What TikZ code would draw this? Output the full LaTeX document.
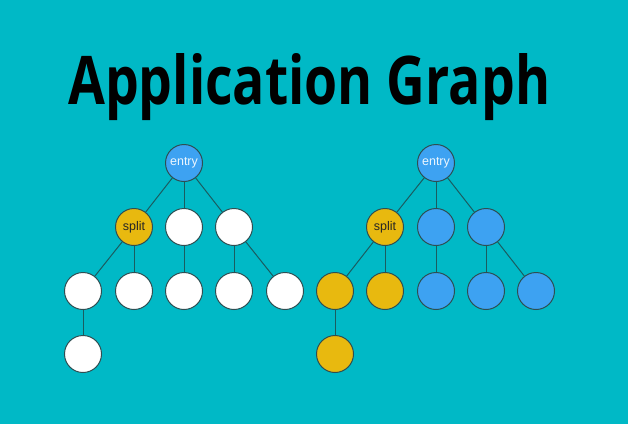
\documentclass[tikz,border=0pt]{standalone}
\usepackage{fontspec}
\setmainfont{Liberation Sans}
\newfontfamily\titlefont{Open Sans}[BoldFont={* Bold}]
\definecolor{bg}{HTML}{00B9C6}
\definecolor{nblue}{HTML}{3DA2F2}
\definecolor{nyellow}{HTML}{E8B90F}
\definecolor{edgec}{HTML}{1A5C60}
\definecolor{ringc}{HTML}{2E4E52}
\begin{document}
\begin{tikzpicture}[x=1pt,y=1pt,
  vert/.style={circle,draw=ringc,line width=1pt,minimum size=37pt,inner sep=0pt,font=\fontsize{12.5}{14}\selectfont},
  wnode/.style={vert,fill=white},
  bnode/.style={vert,fill=nblue,text=white!90!nblue},
  ynode/.style={vert,fill=nyellow,text=black!85},
  link/.style={draw=edgec,line width=1pt}]
\fill[bg] (0,0) rectangle (628,-424);
\useasboundingbox (0,0) rectangle (628,-424);
\node[anchor=base west,inner sep=0pt] (title) at (68,-104)
  {\resizebox{482pt}{51pt}{\titlefont\bfseries Application Graph}};
% left tree
\node[bnode] (le) at (184,-163) {entry};
\node[ynode] (ls) at (134,-227) {split};
\node[wnode] (lb) at (184,-227) {};
\node[wnode] (lc) at (234,-227) {};
\node[wnode] (l1) at (83,-291) {};
\node[wnode] (l2) at (134,-291) {};
\node[wnode] (l3) at (184,-291) {};
\node[wnode] (l4) at (234,-291) {};
\node[wnode] (l5) at (285,-291) {};
\node[wnode] (l6) at (83,-354) {};
\foreach \a/\b in {le/ls,le/lb,le/lc,ls/l1,ls/l2,lb/l3,lc/l4,lc/l5,l1/l6}
  \draw[link] (\a) -- (\b);
% right tree
\node[bnode] (re) at (436,-163) {entry};
\node[ynode] (rs) at (385,-227) {split};
\node[bnode] (rb) at (436,-227) {};
\node[bnode] (rc) at (486,-227) {};
\node[ynode] (r1) at (335,-291) {};
\node[ynode] (r2) at (385,-291) {};
\node[bnode] (r3) at (436,-291) {};
\node[bnode] (r4) at (486,-291) {};
\node[bnode] (r5) at (536,-291) {};
\node[ynode] (r6) at (335,-354) {};
\foreach \a/\b in {re/rs,re/rb,re/rc,rs/r1,rs/r2,rb/r3,rc/r4,rc/r5,r1/r6}
  \draw[link] (\a) -- (\b);
\end{tikzpicture}
\end{document}
